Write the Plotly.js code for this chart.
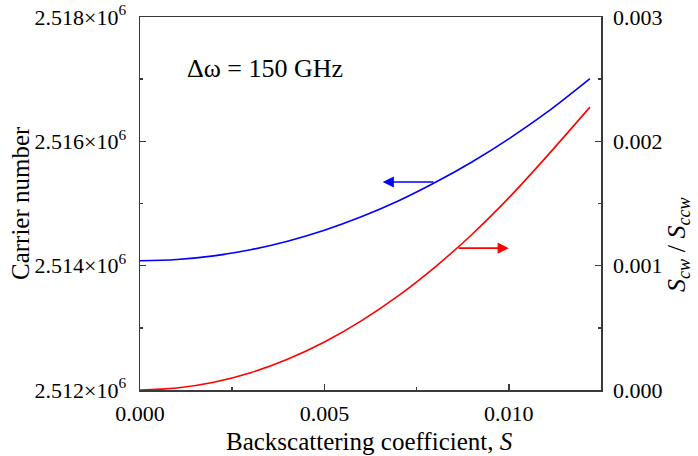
<!DOCTYPE html>
<html>
<head>
<meta charset="utf-8">
<script src="https://cdn.plot.ly/plotly-3.0.1.min.js"></script>
<style>
html,body{margin:0;padding:0;background:#fff;}
#chart{width:698px;height:456px;}
</style>
</head>
<body>
<div id="chart"></div>
<script>
// Backscattering coefficient S
var S = [0, 0.001, 0.002, 0.003, 0.004, 0.005, 0.006, 0.007, 0.008, 0.009, 0.010, 0.011, 0.0122];
// Carrier number (left axis)
var carrier = [2514080, 2514100, 2514158, 2514256, 2514394, 2514570, 2514786, 2515040, 2515337, 2515668, 2516040, 2516452, 2517010];
// S_cw / S_ccw (right axis)
var ratio = [0, 0.0000155, 0.000062, 0.000139, 0.000247, 0.000386, 0.000556, 0.000757, 0.000989, 0.001251, 0.001545, 0.001869, 0.002275];

var leftTicks = [2512000, 2514000, 2516000, 2518000];
var leftTickText = ["2.512×10<sup>6</sup>", "2.514×10<sup>6</sup>", "2.516×10<sup>6</sup>", "2.518×10<sup>6</sup>"];
var rightTicks = [0, 0.001, 0.002, 0.003];
var rightTickText = ["0.000", "0.001", "0.002", "0.003"];
var xTicks = [0, 0.005, 0.010];
var xTickText = ["0.000", "0.005", "0.010"];

var FONT = "Liberation Serif";
var AX = "#3a3a3a";
var TICKF = {family: FONT, size: 22, color: "#000"};

var traces = [
  {x: S, y: carrier, type: "scatter", mode: "lines", line: {color: "#0000ff", width: 1.6, shape: "spline", smoothing: 1}, yaxis: "y", hoverinfo: "skip"},
  {x: S, y: ratio, type: "scatter", mode: "lines", line: {color: "#ff0000", width: 1.6, shape: "spline", smoothing: 1}, yaxis: "y2", hoverinfo: "skip"}
];

var layout = {
  width: 698, height: 456,
  margin: {l: 140, r: 97, t: 17, b: 66},
  paper_bgcolor: "#fff", plot_bgcolor: "#fff",
  showlegend: false,
  font: {family: FONT, size: 22, color: "#000"},
  xaxis: {
    range: [0, 0.0125], tickvals: xTicks, ticktext: xTickText,
    ticks: "inside", ticklen: 6, tickwidth: 1.5, tickcolor: AX,
    showline: true, linecolor: AX, linewidth: 1.5, mirror: true,
    showgrid: false, zeroline: false, ticklabelstandoff: 3,
    tickfont: TICKF,
    minor: {tickvals: [0.0025, 0.0075, 0.0125], ticks: "inside", ticklen: 3, tickwidth: 1.5, tickcolor: AX, showgrid: false}
  },
  yaxis: {
    range: [2512000, 2518000], tickvals: leftTicks, ticktext: leftTickText,
    ticks: "inside", ticklen: 6, tickwidth: 1.5, tickcolor: AX,
    showline: true, linecolor: AX, linewidth: 1.5,
    showgrid: false, zeroline: false, ticklabelstandoff: 8,
    tickfont: TICKF,
    minor: {tickvals: [2513000, 2515000, 2517000], ticks: "inside", ticklen: 3, tickwidth: 1.5, tickcolor: AX, showgrid: false}
  },
  yaxis2: {
    range: [0, 0.003], overlaying: "y", side: "right",
    tickvals: rightTicks, ticktext: rightTickText,
    ticks: "inside", ticklen: 6, tickwidth: 1.5, tickcolor: AX,
    showline: true, linecolor: AX, linewidth: 1.5,
    showgrid: false, zeroline: false, ticklabelstandoff: 6,
    tickfont: TICKF,
    minor: {tickvals: [0.0005, 0.0015, 0.0025], ticks: "inside", ticklen: 3, tickwidth: 1.5, tickcolor: AX, showgrid: false}
  },
  annotations: [
    {text: "Δω = 150 GHz", xref: "paper", yref: "paper", x: (265-140)/461, y: (390-68)/373, xanchor: "center", yanchor: "middle", showarrow: false, font: {family: FONT, size: 26, color: "#000"}},
    {text: "Backscattering coefficient, <i>S</i>", xref: "paper", yref: "paper", x: (369-140)/461, y: (390-441)/373, xanchor: "center", yanchor: "middle", showarrow: false, font: {family: FONT, size: 25, color: "#000"}},
    {text: "Carrier number", xref: "paper", yref: "paper", x: (20-140)/461, y: (390-203)/373, xanchor: "center", yanchor: "middle", textangle: -90, showarrow: false, font: {family: FONT, size: 25, color: "#000"}},
    {text: "<i>S</i><sub><i>cw</i></sub> / <i>S</i><sub><i>ccw</i></sub>", xref: "paper", yref: "paper", x: (678-140)/461, y: (390-245)/373, xanchor: "center", yanchor: "middle", textangle: -90, showarrow: false, font: {family: FONT, size: 26, color: "#000"}},
    {text: "", x: 0.00658, y: 2515346, xref: "x", yref: "y", ax: 0.0080, ay: 2515346, axref: "x", ayref: "y", showarrow: true, arrowhead: 2, arrowsize: 1.4, arrowwidth: 1.6, arrowcolor: "#0000ff", standoff: 0, startstandoff: 0},
    {text: "", x: 0.0100, y: 0.001141, xref: "x", yref: "y2", ax: 0.0086, ay: 0.001141, axref: "x", ayref: "y2", showarrow: true, arrowhead: 2, arrowsize: 1.4, arrowwidth: 1.6, arrowcolor: "#ff0000", standoff: 0, startstandoff: 0}
  ]
};

Plotly.newPlot("chart", traces, layout, {displayModeBar: false, staticPlot: true});
</script>
</body>
</html>
